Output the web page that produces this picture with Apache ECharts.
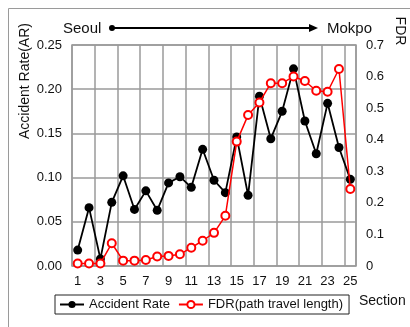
<!DOCTYPE html>
<html>
<head>
<meta charset="utf-8">
<script src="https://cdn.jsdelivr.net/npm/echarts@6/dist/echarts.min.js"></script>
<style>
  html, body { margin: 0; padding: 0; background: #fff; }
  #chart { width: 410px; height: 327px; }
</style>
</head>
<body>
<div id="chart"></div>
<script>
// Sections along the route
const sections = ['1','2','3','4','5','6','7','8','9','10','11','12','13','14','15','16','17','18','19','20','21','22','23','24','25'];

// Accident rate per section (left axis)
const accidentRate = [0.018, 0.066, 0.008, 0.072, 0.102, 0.064, 0.085, 0.063, 0.094, 0.101,
                      0.089, 0.132, 0.097, 0.083, 0.146, 0.080, 0.192, 0.144, 0.175, 0.223,
                      0.164, 0.127, 0.184, 0.134, 0.098];

// FDR by path travel length per section (right axis)
const fdr = [0.008, 0.008, 0.008, 0.072, 0.017, 0.017, 0.019, 0.030, 0.032, 0.037,
             0.058, 0.080, 0.105, 0.159, 0.394, 0.478, 0.518, 0.579, 0.579, 0.600,
             0.586, 0.555, 0.552, 0.624, 0.244];

const FONT = '"Liberation Sans", Arial, sans-serif';
const gridColor = '#9a9a9a';

const chart = echarts.init(document.getElementById('chart'), null, { renderer: 'canvas' });

chart.setOption({
  animation: false,
  backgroundColor: '#fff',
  textStyle: { fontFamily: FONT },
  grid: {
    left: 72, right: 54, top: 45, bottom: 61,
    show: true, borderColor: gridColor, borderWidth: 1.5, backgroundColor: 'transparent'
  },
  legend: {
    left: 55, top: 295,
    itemWidth: 24, itemHeight: 9, itemGap: 8,
    padding: [3, 6, 3, 4],
    borderColor: '#222', borderWidth: 1,
    textStyle: { fontFamily: FONT, fontSize: 13, color: '#111' },
    data: ['Accident Rate', 'FDR(path travel length)']
  },
  xAxis: {
    type: 'category',
    data: sections,
    boundaryGap: true,
    axisLine: { show: false },
    axisTick: { show: false },
    axisLabel: { interval: 1, margin: 9, fontSize: 13, color: '#111', fontFamily: FONT },
    splitLine: { show: true, interval: 1, lineStyle: { color: gridColor, width: 1.5 } }
  },
  yAxis: [
    {
      type: 'value', min: 0, max: 0.25, interval: 0.05,
      axisLine: { show: false }, axisTick: { show: false },
      axisLabel: { margin: 10, fontSize: 13, color: '#111', fontFamily: FONT,
                   formatter: v => v.toFixed(2) },
      splitLine: { show: true, lineStyle: { color: gridColor, width: 1.5 } }
    },
    {
      type: 'value', min: 0, max: 0.7, interval: 0.1,
      axisLine: { show: false }, axisTick: { show: false },
      axisLabel: { margin: 10, fontSize: 13, color: '#111', fontFamily: FONT,
                   formatter: v => (v === 0 ? '0' : v.toFixed(1)) },
      splitLine: { show: false }
    }
  ],
  series: [
    {
      name: 'Accident Rate', type: 'line', yAxisIndex: 0,
      data: accidentRate,
      showAllSymbol: true,
      symbol: 'circle', symbolSize: 9,
      lineStyle: { color: '#000', width: 1.8 },
      itemStyle: { color: '#000' },
      z: 2
    },
    {
      name: 'FDR(path travel length)', type: 'line', yAxisIndex: 1,
      data: fdr,
      showAllSymbol: true,
      symbol: 'emptyCircle', symbolSize: 8,
      lineStyle: { color: '#ff0000', width: 1.5 },
      itemStyle: { color: '#ff0000', borderColor: '#ff0000', borderWidth: 1.5 },
      z: 3
    }
  ],
  graphic: [
    // outer frame
    { type: 'polyline', silent: true,
      shape: { points: [[8.5, 327], [8.5, 8.5], [410, 8.5]] },
      style: { stroke: '#9a9a9a', lineWidth: 1, fill: null } },
    // route direction arrow
    { type: 'text', left: 63, top: 21,
      style: { text: 'Seoul', font: '15px ' + FONT, fill: '#111' } },
    { type: 'line', shape: { x1: 112, y1: 28, x2: 312, y2: 28 },
      style: { stroke: '#000', lineWidth: 2 } },
    { type: 'circle', shape: { cx: 112, cy: 28, r: 3 }, style: { fill: '#000' } },
    { type: 'polygon', shape: { points: [[318, 28], [309, 24], [309, 32]] },
      style: { fill: '#000' } },
    { type: 'text', left: 327, top: 21,
      style: { text: 'Mokpo', font: '15px ' + FONT, fill: '#111' } },
    // axis titles
    { type: 'text', x: 25, y: 81, rotation: Math.PI / 2,
      style: { text: 'Accident Rate(AR)', font: '14px ' + FONT, fill: '#111',
               align: 'center', verticalAlign: 'middle' } },
    { type: 'text', x: 400, y: 31, rotation: -Math.PI / 2,
      style: { text: 'FDR', font: '14px ' + FONT, fill: '#111',
               align: 'center', verticalAlign: 'middle' } },
    { type: 'text', left: 359, top: 294,
      style: { text: 'Section', font: '14px ' + FONT, fill: '#111' } }
  ]
});
</script>
</body>
</html>
